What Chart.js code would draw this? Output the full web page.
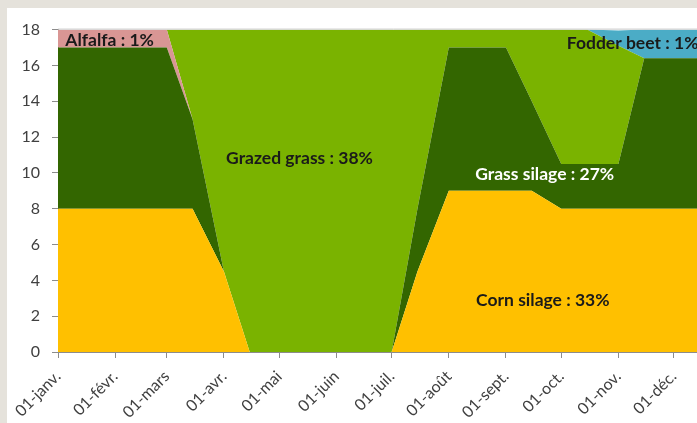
<!DOCTYPE html>
<html>
<head>
<meta charset="utf-8">
<script src="https://cdn.jsdelivr.net/npm/chart.js@4.4.1/dist/chart.umd.min.js"></script>
<style>
  html, body { margin: 0; padding: 0; width: 697px; height: 423px; overflow: hidden; background: #e5e2db; }
  #wrap { position: absolute; left: 7px; top: 8px; width: 722px; height: 415px; background: #fff; }
</style>
</head>
<body>
<div id="wrap"><canvas id="feed_chart" width="722" height="415"></canvas></div>
<script>
// data points every 1st and 15th of the month
const dates = ['01-01','01-15','02-01','02-15','03-01','03-15','04-01','04-15','05-01','05-15','06-01','06-15',
               '07-01','07-15','08-01','08-15','09-01','09-15','10-01','10-15','11-01','11-15','12-01','12-15','12-31'];

const cornSilage  = [8, 8, 8, 8, 8, 8, 4.5, 0, 0, 0, 0, 0, 0, 4.5, 9, 9, 9, 9, 8, 8, 8, 8, 8, 8, 8];
const grassSilage = [9, 9, 9, 9, 9, 5, 0, 0, 0, 0, 0, 0, 0, 3.5, 8, 8, 8, 5, 2.5, 2.5, 2.5, 8.4, 8.4, 8.4, 8.4];
const alfalfa     = [1, 1, 1, 1, 1, 0, 0, 0, 0, 0, 0, 0, 0, 0, 0, 0, 0, 0, 0, 0, 0, 0, 0, 0, 0];
const grazedGrass = [0, 0, 0, 0, 0, 5, 13.5, 18, 18, 18, 18, 18, 18, 10, 1, 1, 1, 4, 7.5, 7.5, 6.6, 0, 0, 0, 0];
const fodderBeet  = [0, 0, 0, 0, 0, 0, 0, 0, 0, 0, 0, 0, 0, 0, 0, 0, 0, 0, 0, 0, 0.85, 1.6, 1.6, 1.6, 1.6];

const monthDates  = ['01-01','02-01','03-01','04-01','05-01','06-01','07-01','08-01','09-01','10-01','11-01','12-01'];
const monthLabels = ['01-janv.','01-févr.','01-mars','01-avr.','01-mai','01-juin','01-juil.','01-août','01-sept.','01-oct.','01-nov.','01-déc.'];
const yTicks = [0, 2, 4, 6, 8, 10, 12, 14, 16, 18];

// in-chart labels (x as date, y in chart units)
const areaLabels = [
  { text: 'Alfalfa : 1%',        date: '01-29', y: 17.4, color: '#1a1a1a', align: 'center' },
  { text: 'Grazed grass : 38%',  date: '05-12', y: 10.8, color: '#1a1a1a', align: 'center' },
  { text: 'Grass silage : 27%',  date: '09-22', y: 9.9,  color: '#ffffff', align: 'center' },
  { text: 'Corn silage : 33%',   date: '09-21', y: 2.9,  color: '#1a1a1a', align: 'center' },
  { text: 'Fodder beet : 1%',    date: '10-04', y: 17.25, color: '#1a1a1a', align: 'left' }
];

function dayOfYear(md) {
  const [m, d] = md.split('-').map(Number);
  return (Date.UTC(2013, m - 1, d) - Date.UTC(2013, 0, 1)) / 86400000;
}

const days = dates.map(dayOfYear);
const monthDays = monthDates.map(dayOfYear);
const toPoints = arr => arr.map((v, i) => ({ x: days[i], y: v }));

const series = [
  { label: 'Corn silage',  data: cornSilage,  color: '#ffc000' },
  { label: 'Grass silage', data: grassSilage, color: '#336600' },
  { label: 'Alfalfa',      data: alfalfa,     color: '#d99694' },
  { label: 'Grazed grass', data: grazedGrass, color: '#7ab300' },
  { label: 'Fodder beet',  data: fodderBeet,  color: '#4bacc6' }
];

const labelFont = "'Lato', sans-serif";

const areaLabelPlugin = {
  id: 'areaLabels',
  afterDatasetsDraw(chart) {
    const { ctx, chartArea, scales } = chart;
    ctx.save();
    // thin line along top of plot
    ctx.strokeStyle = '#c8c8c8';
    ctx.lineWidth = 1;
    ctx.beginPath();
    ctx.moveTo(chartArea.left, chartArea.top - 0.5);
    ctx.lineTo(chartArea.right, chartArea.top - 0.5);
    ctx.stroke();

    ctx.font = 'bold 17.5px ' + labelFont;
    ctx.textBaseline = 'middle';
    areaLabels.forEach(l => {
      ctx.fillStyle = l.color;
      ctx.textAlign = l.align;
      ctx.fillText(l.text, scales.x.getPixelForValue(dayOfYear(l.date)), scales.y.getPixelForValue(l.y));
    });
    ctx.restore();
  }
};

const ctx = document.getElementById('feed_chart').getContext('2d');

const feedChart = new Chart(ctx, {
  type: 'line',
  data: {
    datasets: series.map((s, i) => ({
      label: s.label,
      data: toPoints(s.data),
      backgroundColor: s.color,
      borderColor: s.color,
      borderWidth: 0,
      pointRadius: 0,
      tension: 0,
      fill: i === 0 ? 'origin' : '-1'
    }))
  },
  options: {
    responsive: false,
    animation: false,
    layout: { padding: { top: 15, left: 0, right: 0, bottom: 0 } },
    plugins: {
      legend: { display: false },
      tooltip: { enabled: false }
    },
    scales: {
      x: {
        type: 'linear',
        min: 0,
        max: 364,
        afterBuildTicks: scale => { scale.ticks = monthDays.map(v => ({ value: v })); },
        afterFit: scale => { scale.height = 71; },
        grid: { drawOnChartArea: false, tickLength: 6, tickColor: '#8c8c8c' },
        border: { color: '#8c8c8c' },
        ticks: {
          autoSkip: false,
          minRotation: 45,
          maxRotation: 45,
          color: '#404040',
          padding: 9,
          font: { family: labelFont, size: 16 },
          callback: (value, index) => monthLabels[index]
        }
      },
      y: {
        stacked: true,
        min: 0,
        max: 18,
        afterBuildTicks: scale => { scale.ticks = yTicks.map(v => ({ value: v })); },
        afterFit: scale => { scale.width = 51; },
        grid: { drawOnChartArea: false, tickLength: 6, tickColor: '#8c8c8c' },
        border: { color: '#8c8c8c' },
        ticks: {
          color: '#404040',
          padding: 12,
          font: { family: labelFont, size: 16 }
        }
      }
    }
  },
  plugins: [areaLabelPlugin]
});
</script>
</body>
</html>
